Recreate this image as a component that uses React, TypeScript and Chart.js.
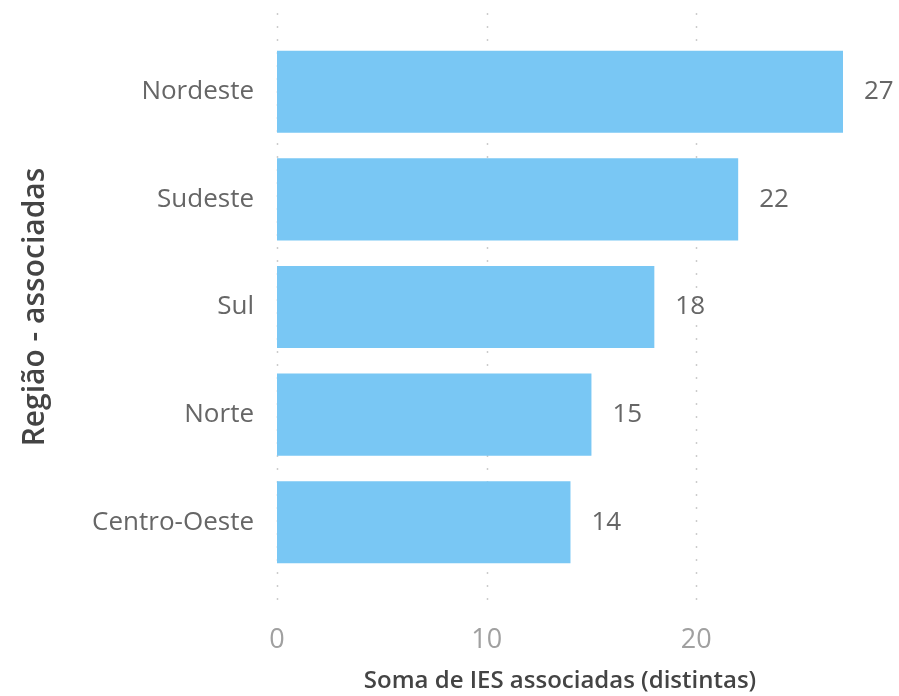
import React, { useEffect, useRef } from "react";
import { Chart, registerables } from "chart.js";

Chart.register(...registerables);

const categories = ["Nordeste", "Sudeste", "Sul", "Norte", "Centro-Oeste"];
const values = [27, 22, 18, 15, 14];
const xTitle = "Soma de IES associadas (distintas)";
const yTitle = "Região - associadas";

const FONT = "'Open Sans', 'Noto Sans', sans-serif";

const gridPlugin = {
  id: "dottedGrid",
  beforeDatasetsDraw(chart: any) {
    const { ctx, chartArea, scales } = chart;
    const x = scales.x;
    ctx.save();
    ctx.strokeStyle = "rgba(0,0,0,0.2)";
    ctx.lineWidth = 1.5;
    ctx.setLineDash([2, 11]);
    x.ticks.forEach((t: any) => {
      const px = Math.round(x.getPixelForValue(t.value)) + 0.5;
      ctx.beginPath();
      ctx.moveTo(px, chartArea.top - 25);
      ctx.lineTo(px, chartArea.bottom + 34);
      ctx.stroke();
    });
    ctx.restore();
  },
};

const labelPlugin = {
  id: "barLabels",
  afterDatasetsDraw(chart: any) {
    const { ctx } = chart;
    const meta = chart.getDatasetMeta(0);
    ctx.save();
    ctx.fillStyle = "#666";
    ctx.font = `26px ${FONT}`;
    ctx.textAlign = "left";
    ctx.textBaseline = "middle";
    meta.data.forEach((bar: any, i: number) => {
      ctx.fillText(String(values[i]), bar.x + 21, bar.y);
    });
    ctx.restore();
  },
};

export default function App() {
  const ref = useRef<HTMLCanvasElement | null>(null);
  useEffect(() => {
    if (!ref.current) return;
    const chart = new Chart(ref.current, {
      type: "bar",
      data: {
        labels: categories,
        datasets: [
          {
            data: values,
            backgroundColor: "#79C7F4",
            barPercentage: 0.763,
            categoryPercentage: 1,
          },
        ],
      },
      options: {
        indexAxis: "y",
        animation: false,
        responsive: true,
        maintainAspectRatio: false,
        layout: { padding: { top: 38, right: 56, left: 0, bottom: 0 } },
        plugins: { legend: { display: false }, tooltip: { enabled: false } },
        scales: {
          x: {
            type: "linear",
            min: 0,
            max: Math.max(...values),
            grid: { display: false },
            border: { display: false },
            ticks: {
              stepSize: 10,
              includeBounds: false,
              color: "#a0a0a0",
              padding: 40,
              font: { family: FONT, size: 27 },
            },
            title: {
              display: true,
              text: xTitle,
              color: "#444",
              font: { family: FONT, size: 24, weight: "600" },
              padding: { top: 0, bottom: 0 },
            },
            afterFit(scale: any) {
              scale.height = 120;
            },
          },
          y: {
            type: "category",
            grid: { display: false },
            border: { display: false },
            ticks: {
              color: "#666",
              padding: 15,
              font: { family: FONT, size: 26 },
            },
            title: {
              display: true,
              text: yTitle,
              color: "#444",
              font: { family: FONT, size: 30, weight: "600" },
              padding: { top: 17, bottom: 0 },
            },
            afterFit(scale: any) {
              scale.width = 277;
            },
          },
        },
      },
      plugins: [gridPlugin, labelPlugin],
    });
    return () => chart.destroy();
  }, []);

  return (
    <div style={{ position: "absolute", left: 0, top: 0, width: 899, height: 696, background: "#fff" }}>
      <canvas ref={ref} />
    </div>
  );
}
